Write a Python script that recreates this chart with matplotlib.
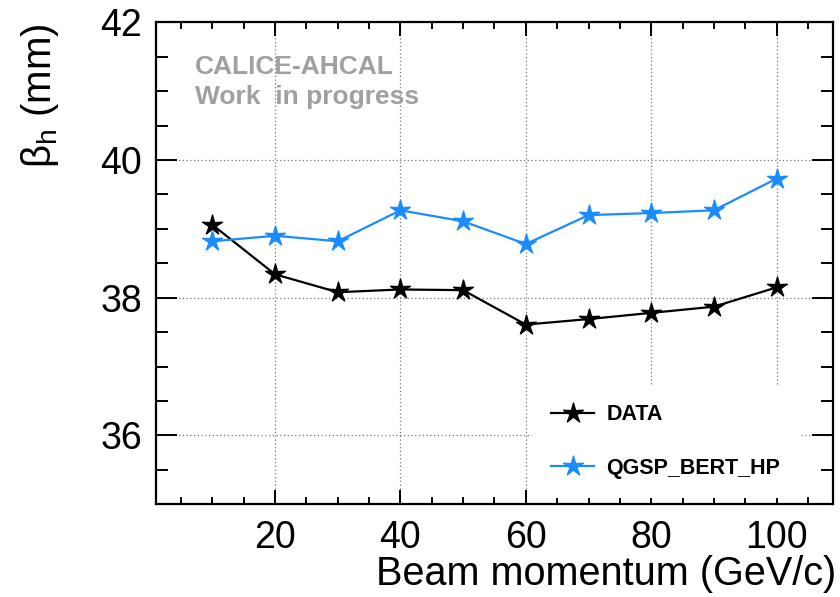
import matplotlib
matplotlib.use("Agg")
import matplotlib.pyplot as plt
from matplotlib.path import Path
from matplotlib.ticker import MultipleLocator

plt.rcParams['font.family'] = ['Liberation Sans', 'DejaVu Sans']
plt.rcParams['mathtext.fontset'] = 'custom'
plt.rcParams['mathtext.rm'] = 'Liberation Sans'
plt.rcParams['mathtext.it'] = 'Liberation Sans'

# Beam momenta (GeV/c) and fitted beta_h (mm)
momentum = [10, 20, 30, 40, 50, 60, 70, 80, 90, 100]
beta_data = [39.06, 38.34, 38.08, 38.12, 38.11, 37.61, 37.69, 37.78, 37.87, 38.15]
beta_qgsp = [38.82, 38.90, 38.82, 39.27, 39.11, 38.78, 39.20, 39.23, 39.27, 39.73]
series_labels = ["DATA", "QGSP_BERT_HP"]
series_colors = ["black", "#1a8cff"]

fig = plt.figure(figsize=(8.4, 5.97), dpi=100)
ax = fig.add_axes([0.1854, 0.1553, 0.8063, 0.8073])

star = Path.unit_regular_star(5, 0.34)
for y, lab, col in zip([beta_data, beta_qgsp], series_labels, series_colors):
    ax.plot(momentum, y, color=col, lw=1.6, marker=star, ms=15,
            markerfacecolor=col, markeredgecolor=col, label=lab, zorder=3)

ax.set_xlim(0.97, 109)
ax.set_ylim(35, 42)
ax.xaxis.set_major_locator(MultipleLocator(20))
ax.xaxis.set_minor_locator(MultipleLocator(5))
ax.yaxis.set_major_locator(MultipleLocator(2))
ax.yaxis.set_minor_locator(MultipleLocator(0.5))

ax.tick_params(axis='both', which='both', direction='in', top=True, right=True,
               width=1.4, labelsize=27)
ax.tick_params(axis='x', which='major', length=10, pad=11)
ax.tick_params(axis='x', which='minor', length=5)
ax.tick_params(axis='y', which='major', length=15, pad=10)
ax.tick_params(axis='y', which='minor', length=8.5)
for s in ax.spines.values():
    s.set_linewidth(1.6)

ax.grid(True, which='major', linestyle=(0, (1, 2)), color='#777777', lw=0.9)

fig.text(836 / 840, 1 - 585 / 597, "Beam momentum (GeV/c)", ha='right',
         va='baseline', fontsize=28.5)
fig.text(40 / 840, 1 - 24 / 597, r"$\beta_{h}$ (mm)", rotation=90,
         ha='center', va='top', fontsize=29)

ax.text(195 / 840, 1 - 74 / 597, "CALICE-AHCAL", transform=fig.transFigure,
        fontsize=19, fontweight='bold', color='#a0a0a0', ha='left', va='baseline')
ax.text(195 / 840, 1 - 104 / 597, "Work  in progress", transform=fig.transFigure,
        fontsize=19, fontweight='bold', color='#a0a0a0', ha='left', va='baseline')

leg = ax.legend(loc='upper left', bbox_to_anchor=(532 / 840, 1 - 385 / 597),
                bbox_transform=fig.transFigure, frameon=True, fancybox=False,
                framealpha=1, facecolor='white', edgecolor='none',
                prop={'weight': 'bold', 'size': 15.5}, handlelength=2.0,
                handletextpad=0.55, labelspacing=1.5, borderpad=0.9,
                borderaxespad=0, markerscale=1.0)
leg.set_zorder(5)

fig.savefig("out.png", dpi=100)
